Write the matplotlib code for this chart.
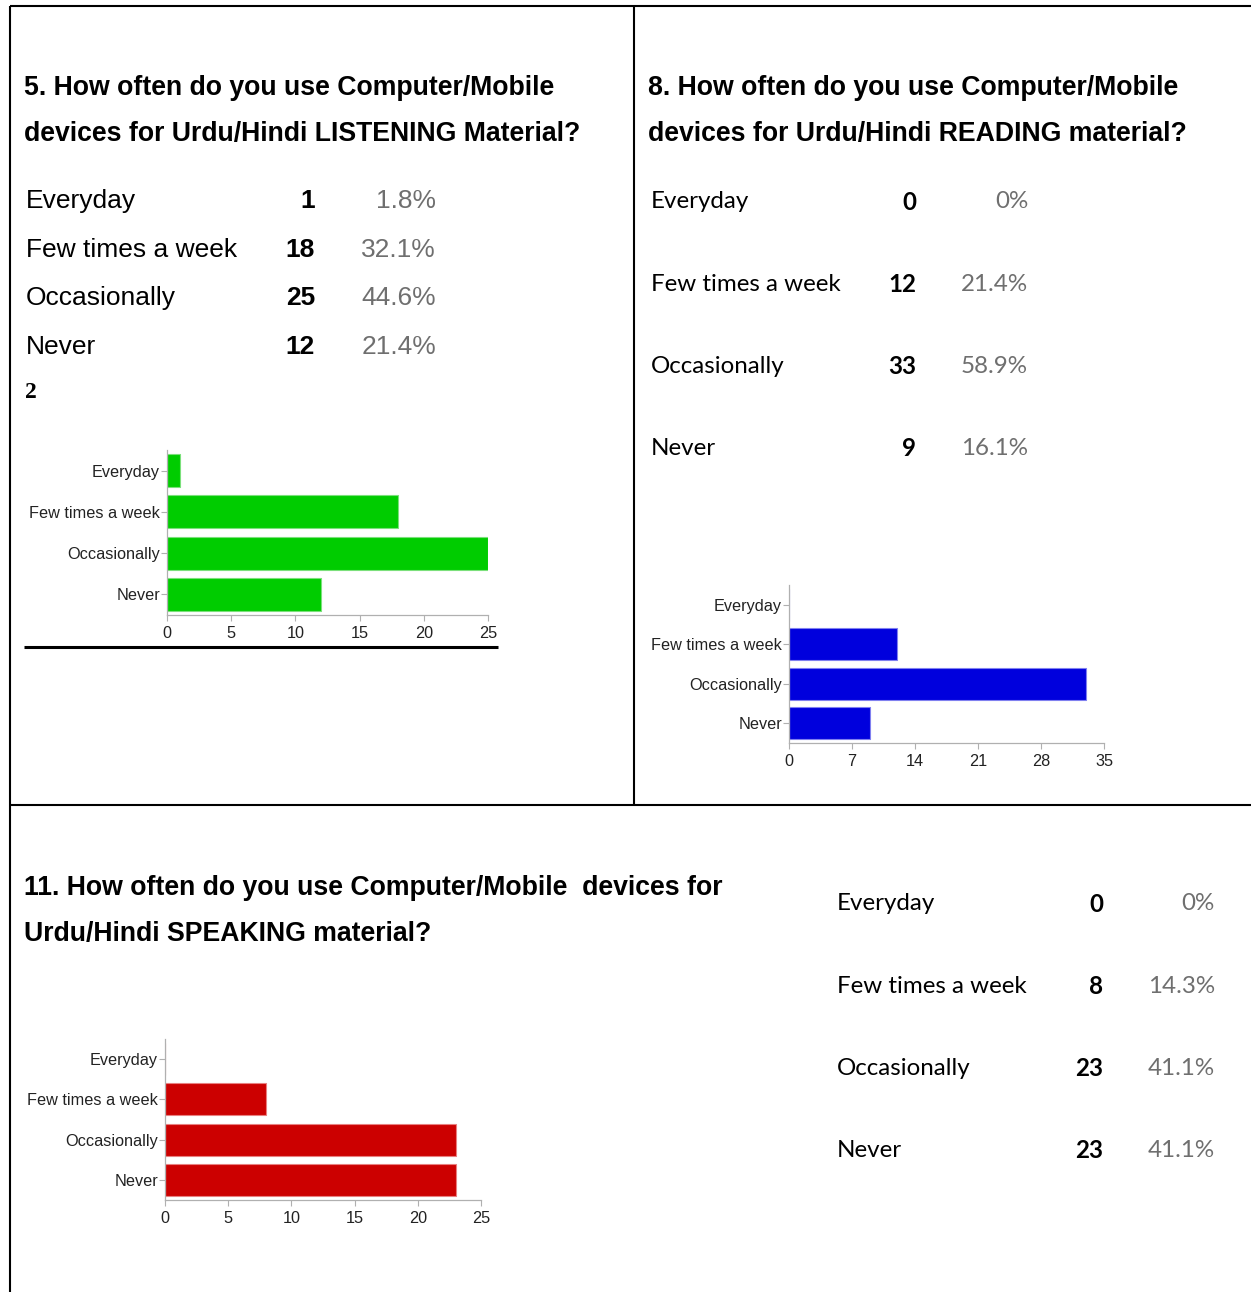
import matplotlib
matplotlib.use("Agg")
import matplotlib.pyplot as plt
from matplotlib.lines import Line2D

# ---------------- data ----------------
categories = ["Everyday", "Few times a week", "Occasionally", "Never"]

listening_counts = [1, 18, 25, 12]
listening_pct = ["1.8%", "32.1%", "44.6%", "21.4%"]
listening_ticks = [0, 5, 10, 15, 20, 25]

reading_counts = [0, 12, 33, 9]
reading_pct = ["0%", "21.4%", "58.9%", "16.1%"]
reading_ticks = [0, 7, 14, 21, 28, 35]

speaking_counts = [0, 8, 23, 23]
speaking_pct = ["0%", "14.3%", "41.1%", "41.1%"]
speaking_ticks = [0, 5, 10, 15, 20, 25]

title_listening = ["5. How often do you use Computer/Mobile",
                   "devices for Urdu/Hindi LISTENING Material?"]
title_reading = ["8. How often do you use Computer/Mobile",
                 "devices for Urdu/Hindi READING material?"]
title_speaking = ["11. How often do you use Computer/Mobile  devices for",
                  "Urdu/Hindi SPEAKING material?"]

# ---------------- figure ----------------
W, H = 1251, 1292
fig = plt.figure(figsize=(W / 100, H / 100), dpi=100)
fig.patch.set_facecolor("white")


def fx(x):
    return x / W


def fy(y):
    return 1 - y / H


def txt(x, y, s, ha="left", **kw):
    fig.text(fx(x), fy(y), s, ha=ha, va="center", **kw)


def hline(x0, x1, y, lw=1.5):
    fig.add_artist(Line2D([fx(x0), fx(x1)], [fy(y), fy(y)], color="black",
                          lw=lw, solid_capstyle="butt"))


def vline(x, y0, y1, lw=1.5):
    fig.add_artist(Line2D([fx(x), fx(x)], [fy(y0), fy(y1)], color="black",
                          lw=lw, solid_capstyle="butt"))


# table borders
hline(10, W, 6)
vline(10, 6, H)
vline(634, 6, 805)
hline(10, W, 805)

SANS = "Liberation Sans"
CAL = "Lato"
GRAY = "#6f6f6f"

# ---------------- titles ----------------
for i, line in enumerate(title_listening):
    txt(24, 88 + 46 * i, line, fontsize=19.2, fontweight="bold", family=SANS)
for i, line in enumerate(title_reading):
    txt(648, 88 + 46 * i, line, fontsize=19.2, fontweight="bold", family=SANS)
for i, line in enumerate(title_speaking):
    txt(24, 888 + 46 * i, line, fontsize=19.2, fontweight="bold", family=SANS)

# ---------------- tables ----------------
# listening (Arial-like)
for i, (c, n, p) in enumerate(zip(categories, listening_counts, listening_pct)):
    y = 201 + 48.7 * i
    txt(26, y, c, fontsize=19, family=SANS, color="black")
    txt(315, y, str(n), ha="right", fontsize=19, fontweight="bold", family=SANS)
    txt(436, y, p, ha="right", fontsize=19, family=SANS, color=GRAY)

txt(25, 393, "2", fontsize=17, fontweight="bold", family="Liberation Serif")

# reading (Calibri-like)
for i, (c, n, p) in enumerate(zip(categories, reading_counts, reading_pct)):
    y = 202 + 82.3 * i
    txt(651, y, c, fontsize=17.4, family=CAL, color="black")
    txt(916, y, str(n), ha="right", fontsize=17.4, fontweight="bold", family=CAL)
    txt(1028, y, p, ha="right", fontsize=17.4, family=CAL, color=GRAY)

# speaking
for i, (c, n, p) in enumerate(zip(categories, speaking_counts, speaking_pct)):
    y = 904 + 82.3 * i
    txt(837, y, c, fontsize=17.4, family=CAL, color="black")
    txt(1103, y, str(n), ha="right", fontsize=17.4, fontweight="bold", family=CAL)
    txt(1215, y, p, ha="right", fontsize=17.4, family=CAL, color=GRAY)

# line under listening chart
hline(24, 498, 647, lw=2.2)


# ---------------- bar charts ----------------
def bar_chart(x0, x1, y0, y1, values, ticks, color, edge):
    ax = fig.add_axes([fx(x0), fy(y1), (x1 - x0) / W, (y1 - y0) / H])
    ax.barh(range(len(categories)), values, height=0.8, color=color,
            edgecolor=edge, linewidth=0.8)
    ax.set_ylim(len(categories) - 0.5, -0.5)
    ax.set_xlim(ticks[0], ticks[-1])
    ax.set_xticks(ticks)
    ax.set_yticks(range(len(categories)))
    ax.set_yticklabels(categories)
    for s in ("top", "right"):
        ax.spines[s].set_visible(False)
    for s in ("left", "bottom"):
        ax.spines[s].set_color("#b0b0b0")
        ax.spines[s].set_linewidth(0.9)
    ax.tick_params(axis="both", colors="#b0b0b0", length=4, width=0.8,
                   labelcolor="#222222", labelsize=11.7)
    ax.tick_params(axis="y", pad=1)
    ax.tick_params(axis="x", pad=4)
    for lab in ax.get_xticklabels() + ax.get_yticklabels():
        lab.set_family(SANS)
    ax.set_facecolor("none")
    return ax


bar_chart(167, 488, 450, 615, listening_counts, listening_ticks,
          "#00cc00", "#7be07b")
bar_chart(789, 1104, 585, 743, reading_counts, reading_ticks,
          "#0000dd", "#8080f0")
bar_chart(165, 481, 1039, 1200, speaking_counts, speaking_ticks,
          "#cc0000", "#e88080")

fig.savefig("out.png", dpi=100, facecolor="white")
